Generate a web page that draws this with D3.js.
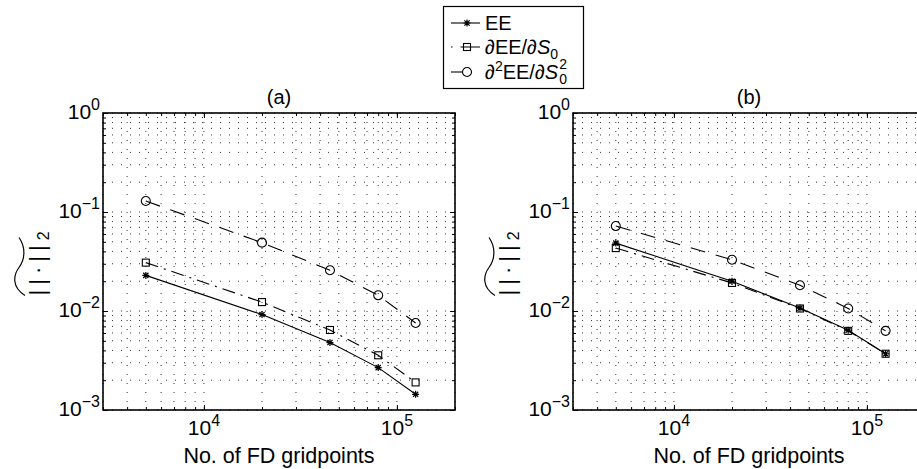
<!DOCTYPE html>
<html>
<head>
<meta charset="utf-8">
<script src="https://cdn.jsdelivr.net/npm/d3@7"></script>
<style>
  body { margin: 0; background: #fff; }
  svg { font-family: "Liberation Sans", Arial, Helvetica, sans-serif; }
</style>
</head>
<body>
<div id="chart"></div>
<script>
// Data
const gridpoints = [5000, 20000, 45000, 80000, 125000];

// panel (a)
const eeA = [0.0229, 0.0092, 0.0048, 0.00268, 0.00144];
const dEEA = [0.0308, 0.0123, 0.00643, 0.00357, 0.0019];
const d2EEA = [0.129, 0.049, 0.0258, 0.0144, 0.00757];

// panel (b)
const eeB = [0.0485, 0.0200, 0.0107, 0.0064, 0.0037];
const dEEB = [0.0432, 0.0192, 0.0106, 0.0063, 0.0037];
const d2EEB = [0.0721, 0.0329, 0.0182, 0.0106, 0.0063];

const panelTitles = ["(a)", "(b)"];
const xTickExp = [4, 5];
const yTickExp = [-3, -2, -1, 0];
const xDomain = [3000, 200000];
const yDomain = [1e-3, 1];

const W = 917, H = 469;
const plotTop = 113, plotBottom = 410, plotW = 352;
const panelLeft = [103, 573];

const svg = d3.select("#chart").append("svg")
    .attr("width", W)
    .attr("height", H);

// minor tick values
const xMinor = [];
for (let e = 3; e <= 5; e++) for (let k = 1; k <= 9; k++) {
    const v = k * Math.pow(10, e);
    if (v >= xDomain[0] && v <= xDomain[1]) xMinor.push(v);
}
const yMinor = [];
for (let e = -3; e <= -1; e++) for (let k = 1; k <= 9; k++) yMinor.push(k * Math.pow(10, e));
yMinor.push(1);

function star(g) {
    g.append("path")
        .attr("d", "M-3.5,0H3.5M0,-3.5V3.5M-2.6,-2.6L2.6,2.6M-2.6,2.6L2.6,-2.6")
        .attr("stroke", "#000").attr("stroke-width", 1.2).attr("fill", "none");
}
function square(g) {
    g.append("rect").attr("x", -3.5).attr("y", -3.5).attr("width", 7).attr("height", 7)
        .attr("fill", "none").attr("stroke", "#000").attr("stroke-width", 1.1);
}
function circle(g) {
    g.append("circle").attr("r", 4.5)
        .attr("fill", "none").attr("stroke", "#000").attr("stroke-width", 1.1);
}

const seriesStyle = [
    { marker: star, dash: null },
    { marker: square, dash: "13,6,2,6" },
    { marker: circle, dash: "15,11" }
];

function drawPanel(i, seriesVals) {
    const x0 = panelLeft[i];
    const x = d3.scaleLog().domain(xDomain).range([x0, x0 + plotW]);
    const y = d3.scaleLog().domain(yDomain).range([plotBottom, plotTop]);

    const g = svg.append("g");

    // dotted grid (major + minor)
    g.append("g").selectAll("line").data(xMinor).enter().append("line")
        .attr("x1", d => x(d)).attr("x2", d => x(d))
        .attr("y1", plotTop).attr("y2", plotBottom)
        .attr("stroke", "#333").attr("stroke-width", 1)
        .attr("stroke-dasharray", "1,8");
    g.append("g").selectAll("line").data(yMinor).enter().append("line")
        .attr("x1", x0).attr("x2", x0 + plotW)
        .attr("y1", d => y(d)).attr("y2", d => y(d))
        .attr("stroke", "#333").attr("stroke-width", 1)
        .attr("stroke-dasharray", "1,8");

    // axes, ticks pointing inward on all four sides
    const xMajor = xTickExp.map(e => Math.pow(10, e));
    const yMajor = yTickExp.map(e => Math.pow(10, e));
    const axes = [
        [d3.axisBottom(x).tickValues(xMajor).tickSize(-5), `translate(0,${plotBottom})`],
        [d3.axisBottom(x).tickValues(xMinor).tickSize(-3), `translate(0,${plotBottom})`],
        [d3.axisTop(x).tickValues(xMajor).tickSize(-5), `translate(0,${plotTop})`],
        [d3.axisTop(x).tickValues(xMinor).tickSize(-3), `translate(0,${plotTop})`],
        [d3.axisLeft(y).tickValues(yMajor).tickSize(-5), `translate(${x0},0)`],
        [d3.axisLeft(y).tickValues(yMinor).tickSize(-3), `translate(${x0},0)`],
        [d3.axisRight(y).tickValues(yMajor).tickSize(-5), `translate(${x0 + plotW},0)`],
        [d3.axisRight(y).tickValues(yMinor).tickSize(-3), `translate(${x0 + plotW},0)`]
    ];
    axes.forEach(([ax, tr]) => {
        const a = g.append("g").attr("transform", tr)
            .call(ax.tickFormat("").tickSizeOuter(0));
        a.select(".domain").remove();
        a.selectAll("line").attr("stroke", "#000").attr("stroke-width", 1);
    });

    // frame
    g.append("rect")
        .attr("x", x0).attr("y", plotTop).attr("width", plotW).attr("height", plotBottom - plotTop)
        .attr("fill", "none").attr("stroke", "#000").attr("stroke-width", 1.6);

    // x tick labels 10^n
    xTickExp.forEach(e => {
        const t = g.append("text")
            .attr("x", x(Math.pow(10, e))).attr("y", plotBottom + 25)
            .attr("text-anchor", "middle").attr("font-size", 21);
        t.append("tspan").text("10");
        t.append("tspan").attr("dy", -9).attr("font-size", 16).text(e);
    });
    // y tick labels
    yTickExp.forEach(e => {
        const t = g.append("text")
            .attr("x", x0 - 3).attr("y", y(Math.pow(10, e)) + 6)
            .attr("text-anchor", "end").attr("font-size", 21);
        t.append("tspan").text("10");
        t.append("tspan").attr("dy", -9).attr("font-size", 16)
            .text(e < 0 ? "\u2212" + (-e) : e);
    });

    // title
    g.append("text")
        .attr("x", x0 + plotW / 2).attr("y", plotTop - 9)
        .attr("text-anchor", "middle").attr("font-size", 20)
        .text(panelTitles[i]);

    // x label
    g.append("text")
        .attr("x", x0 + plotW / 2).attr("y", plotBottom + 53)
        .attr("text-anchor", "middle").attr("font-size", 21.5)
        .text("No. of FD gridpoints");

    // y label: ||.||_2 with a wide tilde over it
    const cy = (plotTop + plotBottom) / 2;
    const yl = g.append("g")
        .attr("transform", `translate(${x0 - 58},${cy + 34}) rotate(-90)`);
    const yt = yl.append("text").attr("x", 0).attr("y", 0)
        .attr("font-size", 22).attr("letter-spacing", 5);
    yt.append("tspan").text("||\u00b7||");
    yt.append("tspan").attr("dy", 4).attr("font-size", 16).attr("letter-spacing", 0).text("2");
    yl.append("path")
        .attr("d", "M0,-20 C8,-33 20,-32 28,-26 C36,-20 48,-19 58,-26")
        .attr("fill", "none").attr("stroke", "#000").attr("stroke-width", 1.2);

    // series
    const line = d3.line().x(d => x(d.n)).y(d => y(d.v));
    seriesVals.forEach((vals, s) => {
        const pts = gridpoints.map((n, k) => ({ n: n, v: vals[k] }));
        const st = seriesStyle[s];
        g.append("path").datum(pts)
            .attr("d", line)
            .attr("fill", "none").attr("stroke", "#000").attr("stroke-width", 1.1)
            .attr("stroke-dasharray", st.dash);
        pts.forEach(p => {
            const m = g.append("g").attr("transform", `translate(${x(p.n)},${y(p.v)})`);
            st.marker(m);
        });
    });
}

drawPanel(0, [eeA, dEEA, d2EEA]);
drawPanel(1, [eeB, dEEB, d2EEB]);

// legend
const lg = svg.append("g");
lg.append("rect").attr("x", 443.5).attr("y", 6.5).attr("width", 140).attr("height", 82)
    .attr("fill", "#fff").attr("stroke", "#000").attr("stroke-width", 1.2);
const rowsY = [23, 47, 72];
const legendDash = [null, "1.5,8,30", "12,30"];
seriesStyle.forEach((st, s) => {
    lg.append("line").attr("x1", 451).attr("x2", 480)
        .attr("y1", rowsY[s]).attr("y2", rowsY[s])
        .attr("stroke", "#000").attr("stroke-width", 1.1)
        .attr("stroke-dasharray", legendDash[s]);
    st.marker(lg.append("g").attr("transform", `translate(467,${rowsY[s]})`));
});
const fs = 20;
lg.append("text").attr("x", 485).attr("y", rowsY[0] + 7).attr("font-size", fs).text("EE");

const t2 = lg.append("text").attr("x", 485).attr("y", rowsY[1] + 7).attr("font-size", fs);
t2.append("tspan").text("\u2202EE/\u2202");
t2.append("tspan").attr("font-style", "italic").text("S");
t2.append("tspan").attr("dy", 5).attr("font-size", 14).text("0");

const t3 = lg.append("text").attr("x", 485).attr("y", rowsY[2] + 7).attr("font-size", fs);
t3.append("tspan").text("\u2202");
t3.append("tspan").attr("dy", -8).attr("font-size", 14).text("2");
t3.append("tspan").attr("dy", 8).text("EE/\u2202");
t3.append("tspan").attr("font-style", "italic").text("S");
const w3 = t3.node().getComputedTextLength();
lg.append("text").attr("x", 485 + w3 + 1).attr("y", rowsY[2] + 12).attr("font-size", 14).text("0");
lg.append("text").attr("x", 485 + w3 + 1).attr("y", rowsY[2] - 3).attr("font-size", 14).text("2");
</script>
</body>
</html>
